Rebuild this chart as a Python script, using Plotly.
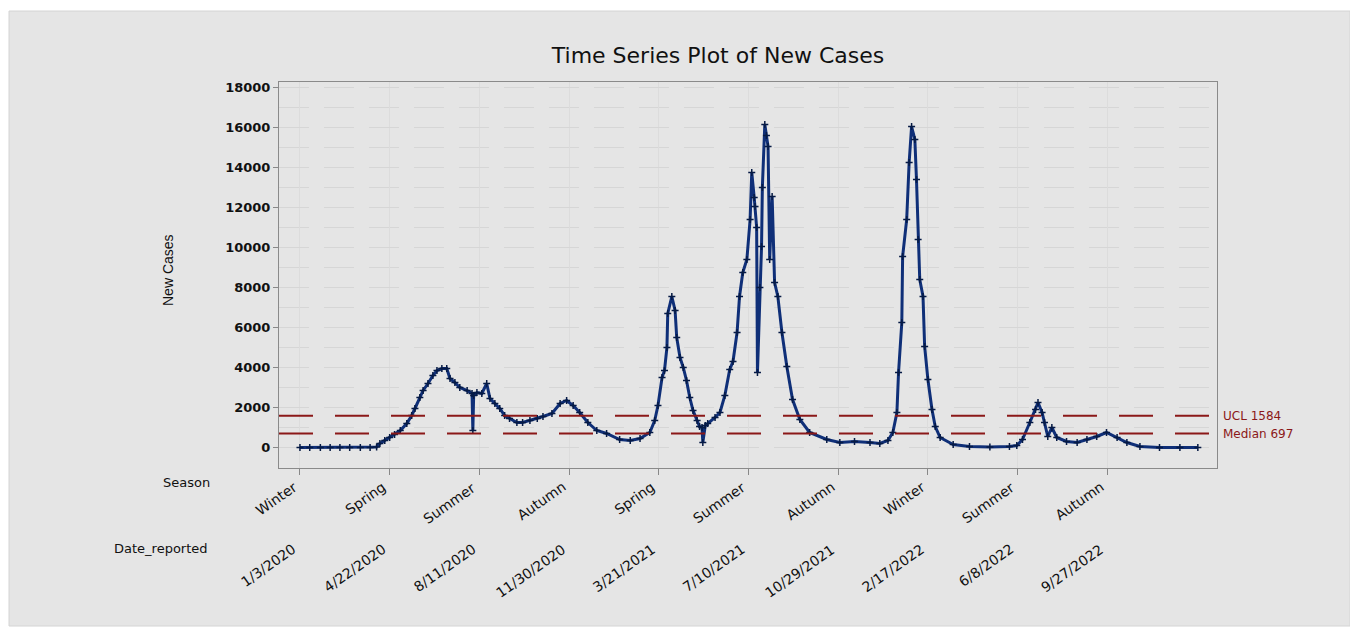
import plotly.graph_objects as go

day_index = [0, 12, 25, 37, 49, 61, 74, 86, 94, 98,
             104, 110, 116, 123, 131, 137, 141, 147, 151, 157,
             163, 168, 174, 180, 184, 190, 196, 205, 211, 212,
             213, 217, 223, 229, 233, 239, 245, 251, 257, 266,
             273, 282, 291, 298, 309, 319, 327, 335, 343, 353,
             364, 376, 392, 405, 417, 429, 435, 439, 444, 447,
             450, 451, 456, 460, 462, 466, 470, 474, 478, 482,
             487, 490, 493, 494, 497, 500, 509, 515, 521, 527,
             531, 536, 539, 543, 548, 552, 554, 557, 558, 560,
             561, 564, 566, 567, 570, 572, 574, 576, 579, 582,
             586, 591, 597, 604, 613, 625, 646, 662, 680, 699,
             711, 721, 727, 732, 734, 738, 739, 744, 747, 750,
             754, 756, 758, 760, 764, 766, 770, 775, 779, 785,
             801, 821, 846, 870, 879, 886, 895, 902, 905, 910,
             913, 917, 922, 928, 940, 953, 965, 977, 989, 1002,
             1014, 1030, 1054, 1079, 1101]
new_cases = [0, 0, 0, 0, 0, 0, 0, 0, 30, 200,
             350, 500, 650, 850, 1200, 1600, 1950, 2500, 2850, 3200,
             3600, 3850, 3950, 3950, 3450, 3250, 3000, 2850, 2700, 850,
             2600, 2750, 2700, 3200, 2450, 2200, 1950, 1600, 1450, 1250,
             1250, 1350, 1450, 1550, 1700, 2200, 2350, 2100, 1750, 1250,
             850, 700, 400, 350, 450, 750, 1350, 2100, 3500, 3850,
             5000, 6700, 7550, 6850, 5500, 4500, 4000, 3350, 2500, 1850,
             1350, 1050, 1000, 250, 1100, 1200, 1500, 1750, 2600, 3900,
             4300, 5750, 7550, 8750, 9400, 11400, 13750, 12500, 12050, 11000,
             3750, 8000, 10050, 13000, 16150, 15600, 15050, 9400, 12550, 8250,
             7550, 5750, 4050, 2400, 1400, 750, 400, 250, 300, 250,
             200, 350, 750, 1750, 3750, 6250, 9550, 11400, 14250, 16050,
             15400, 13400, 10400, 8400, 7550, 5050, 3400, 1900, 1050, 500,
             150, 50, 30, 50, 100, 400, 1250, 1900, 2250, 1750,
             1250, 550, 1000, 500, 300, 250, 400, 550, 750, 500,
             250, 50, 0, 0, 0]

tick_index = [0, 110, 220, 330, 440, 550, 660, 770, 880, 990]
seasons = ["Winter", "Spring", "Summer", "Autumn", "Spring",
           "Summer", "Autumn", "Winter", "Summer", "Autumn"]
dates_reported = ["1/3/2020", "4/22/2020", "8/11/2020", "11/30/2020", "3/21/2021",
                  "7/10/2021", "10/29/2021", "2/17/2022", "6/8/2022", "9/27/2022"]
ucl_value = 1584
median_value = 697

assert len(day_index) == len(new_cases)

OFF = 8  # page body margin
PAGE_W, PAGE_H = 1358, 637
W, H = PAGE_W - 2 * OFF, PAGE_H - 2 * OFF
LEFT, RIGHT, TOP, BOTTOM = 279, 1217, 82, 468  # page pixels
pw, ph = RIGHT - LEFT, BOTTOM - TOP


def px_x(p):
    return (p - LEFT) / pw


def px_y(p):
    return (BOTTOM - p) / ph


fig = go.Figure()
fig.add_trace(go.Scatter(
    x=day_index, y=new_cases, mode="lines+markers",
    line=dict(color="#0f2f78", width=3),
    marker=dict(symbol="cross-thin", size=5, color="#061a44",
                line=dict(color="#061a44", width=1.5)),
    showlegend=False, hoverinfo="x+y"))

font_main = "DejaVu Sans, Liberation Sans, Arial, sans-serif"

shapes = [
    dict(type="rect", xref="paper", yref="paper", layer="below",
         x0=px_x(9), x1=px_x(1350), y0=px_y(626), y1=px_y(11),
         fillcolor="#e5e5e5", line=dict(color="#d4d4d4", width=1)),
]
for val in (ucl_value, median_value):
    shapes.append(dict(type="line", xref="paper", yref="y", x0=0, x1=1,
                       y0=val, y1=val,
                       line=dict(color="#8b1818", width=2, dash="34px,22px")))

annotations = [
    dict(text="New Cases", textangle=-90, xref="paper", yref="paper",
         x=px_x(158), y=px_y(270), showarrow=False,
         font=dict(family="Liberation Sans Narrow, Liberation Sans, Arial", size=14, color="#111")),
    dict(text="Season", xref="paper", yref="paper", x=px_x(212), y=px_y(483),
         xanchor="right", yanchor="middle", showarrow=False,
         font=dict(family=font_main, size=13, color="#111")),
    dict(text="Date_reported", xref="paper", yref="paper", x=px_x(210), y=px_y(548),
         xanchor="right", yanchor="middle", showarrow=False,
         font=dict(family=font_main, size=13, color="#111")),
    dict(text="UCL 1584", xref="paper", yref="y", x=1, y=ucl_value, xshift=4,
         xanchor="left", yanchor="middle", showarrow=False,
         font=dict(family=font_main, size=12, color="#8b1818")),
    dict(text="Median 697", xref="paper", yref="y", x=1, y=median_value, xshift=4,
         xanchor="left", yanchor="middle", showarrow=False,
         font=dict(family=font_main, size=12, color="#8b1818")),
]
for t, s, d in zip(tick_index, seasons, dates_reported):
    annotations.append(dict(text=s, x=t, xref="x", y=0, yref="paper",
                            textangle=-35, xanchor="right", yanchor="top",
                            yshift=-8, xshift=2, showarrow=False,
                            font=dict(family=font_main, size=14, color="#111")))
    annotations.append(dict(text=d, x=t, xref="x", y=0, yref="paper",
                            textangle=-35, xanchor="right", yanchor="top",
                            yshift=-70, xshift=2, showarrow=False,
                            font=dict(family=font_main, size=14, color="#111")))

fig.update_layout(
    width=W, height=H,
    margin=dict(l=LEFT - OFF, r=PAGE_W - OFF - RIGHT, t=TOP - OFF, b=PAGE_H - OFF - BOTTOM),
    paper_bgcolor="white", plot_bgcolor="white",
    title=dict(text="Time Series Plot of New Cases", x=(718 - OFF) / W, y=1 - (55 - OFF) / H,
               xanchor="center", yanchor="middle", xref="container", yref="container",
               font=dict(family=font_main, size=22, color="#111")),
    shapes=shapes, annotations=annotations,
    xaxis=dict(range=[-25.7, 1124.5], tickvals=tick_index, showticklabels=False,
               ticks="outside", ticklen=6, tickcolor="#888",
               showgrid=True, gridcolor="#dcdcdc", gridwidth=1,
               showline=True, linecolor="#8a8a8a", linewidth=1, mirror=True,
               zeroline=False),
    yaxis=dict(range=[-1025, 18275], tickvals=list(range(0, 18001, 2000)),
               tickformat="d",
               ticks="outside", ticklen=5, tickcolor="#888",
               tickfont=dict(family=font_main, size=13, color="#111", weight="bold"),
               showgrid=True, gridcolor="#d6d6d6", griddash="30px,15px",
               minor=dict(dtick=1000, tick0=0, showgrid=True, gridcolor="#d6d6d6",
                          griddash="30px,15px"),
               showline=True, linecolor="#8a8a8a", linewidth=1, mirror=True,
               zeroline=False),
)

fig.write_html("out.html")
